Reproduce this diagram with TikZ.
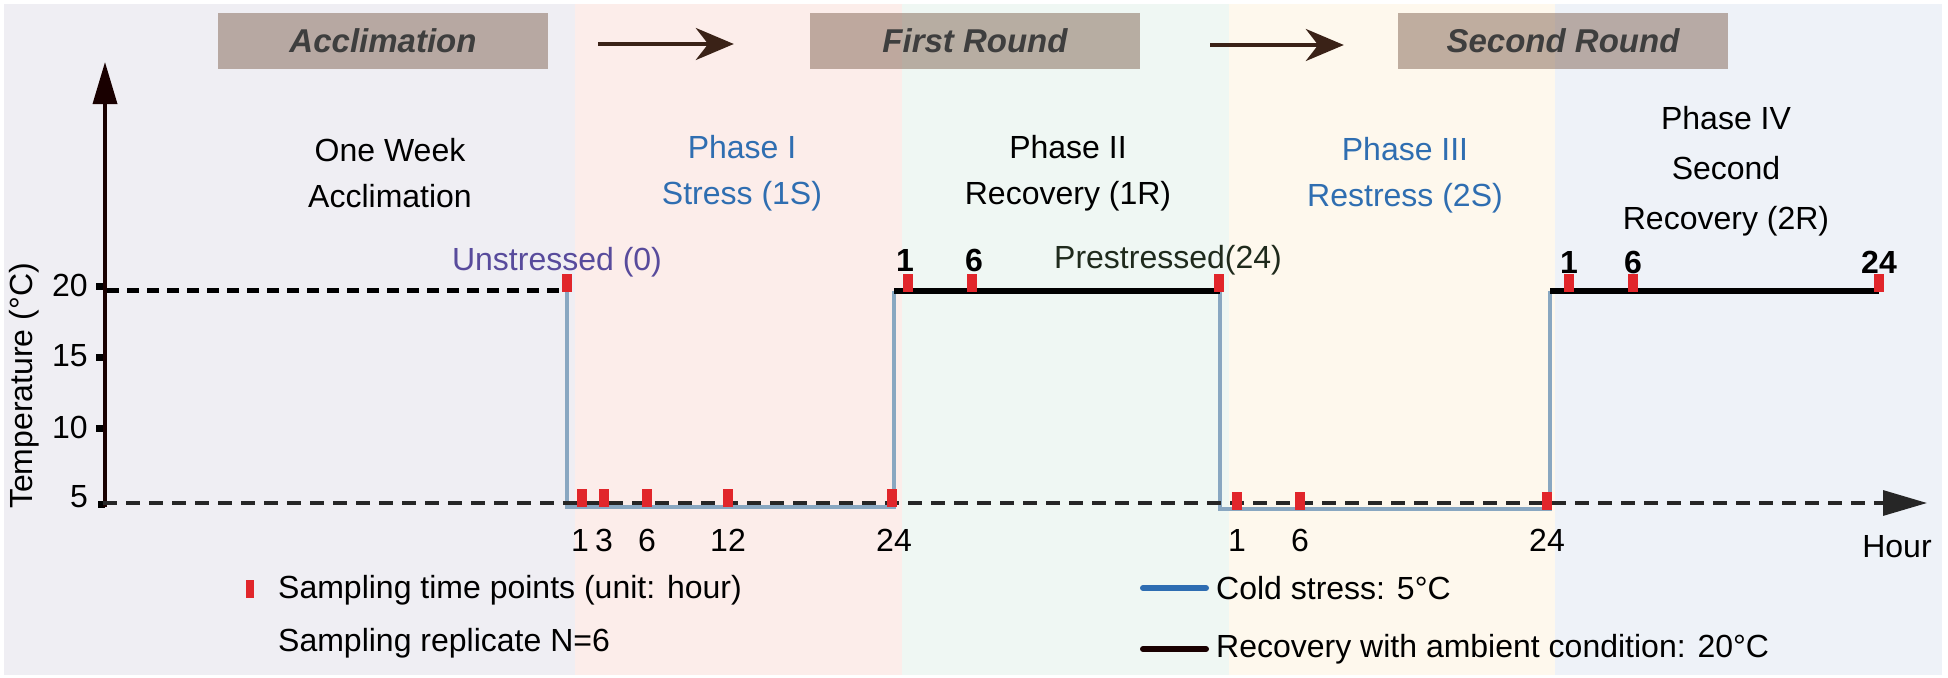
\documentclass[tikz,border=0pt]{standalone}
\usepackage{fontspec}
\setmainfont{Liberation Sans}
\usetikzlibrary{arrows.meta,positioning}

\definecolor{bgacc}{HTML}{EFEEF3}
\definecolor{bgone}{HTML}{FCEDEA}
\definecolor{bgtwo}{HTML}{EFF7F3}
\definecolor{bgthree}{HTML}{FEF8ED}
\definecolor{bgfour}{HTML}{EEF2F8}
\definecolor{boxbrown}{HTML}{816453}
\definecolor{arrowbrown}{HTML}{3A2217}
\definecolor{coldline}{HTML}{89A7C1}
\definecolor{coldkey}{HTML}{2E6DB2}
\definecolor{phaseblue}{HTML}{2F6EB1}
\definecolor{markred}{HTML}{E1262B}
\definecolor{unpurple}{HTML}{584B9C}
\definecolor{pregreen}{HTML}{1F2A1C}
\definecolor{titlegray}{HTML}{3E3E3E}

\tikzset{
  bodytext/.style={font=\fontsize{32}{46}\selectfont, inner sep=0pt},
  phasetext/.style={bodytext, align=center},
  numlab/.style={bodytext},
  toplab/.style={font=\fontsize{32}{36}\selectfont\bfseries, inner sep=0pt},
  titlebox/.style={fill=boxbrown, fill opacity=0.5, text opacity=1, text=titlegray,
    minimum width=330pt, minimum height=56pt, inner sep=0pt,
    font=\fontsize{33}{38}\selectfont\bfseries\itshape},
  sample/.style={fill=markred, minimum width=10pt, minimum height=18pt, inner sep=0pt},
  tickmark/.style={fill=black, minimum size=7pt, inner sep=0pt},
}

\begin{document}
\begin{tikzpicture}[x=1pt,y=-1pt]
  \useasboundingbox (0,0) rectangle (1948,677);
  \fill[white] (0,0) rectangle (1948,677);

  % phase bands
  \fill[bgacc] (4,4) rectangle (575,675);
  \fill[bgone] (575,4) rectangle (902,675);
  \fill[bgtwo] (902,4) rectangle (1229,675);
  \fill[bgthree] (1229,4) rectangle (1555,675);
  \fill[bgfour] (1555,4) rectangle (1942,675);

  % rounds
  \node[titlebox] (acc) at (383,41) {Acclimation};
  \node[titlebox] (first) at (975,41) {First Round};
  \node[titlebox] (second) at (1563,41) {Second Round};

  \begin{scope}[-{Stealth[length=38pt,width=32pt]}, line width=4pt, arrowbrown]
    \draw ([xshift=50pt,yshift=-3pt]acc.east) -- ([xshift=-76pt,yshift=-3pt]first.west);
    \draw ([xshift=70pt,yshift=-4pt]first.east) -- ([xshift=-54pt,yshift=-4pt]second.west);
  \end{scope}

  % phase texts
  \node[phasetext] (ph0) at (390,173) {One Week\\Acclimation};
  \node[phasetext, text=phaseblue] (ph1) at (742,173) {Phase I\\Stress (1S)};
  \node[phasetext] (ph2) at (1068,173) {Phase II\\Recovery (1R)};
  \node[phasetext, text=phaseblue] (ph3) at (1405,175) {Phase III\\Restress (2S)};
  \node[phasetext, font=\fontsize{32}{50}\selectfont] (ph4) at (1726,171) {Phase IV\\Second\\Recovery (2R)};

  % axes
  \coordinate (origin) at (105,507);
  \coordinate (ytop) at (105,62);
  \coordinate (xstart) at (103,503);
  \coordinate (xend) at (1927,503);

  \begin{scope}[every node/.style={tickmark}]
    \node (k20) at (99,286) {};
    \node (k15) at (99,357) {};
    \node (k10) at (99,428) {};
    \node (k5) at (101,504) {};
  \end{scope}
  \node[bodytext, anchor=east] (l20) at (88,285) {20};
  \node[bodytext, anchor=east] (l15) at (88,356) {15};
  \node[bodytext, anchor=east] (l10) at (88,427) {10};
  \node[bodytext, anchor=east] (l5) at (88,497) {5};
  \node[bodytext, rotate=90] (ylab) at (24,386) {Temperature (°C)};
  \node[bodytext] (hour) at (1897,547) {Hour};

  % temperature course
  \coordinate (d0) at (107,290);
  \coordinate (s0) at (567,290);
  \coordinate (s1) at (567,507);
  \coordinate (s2) at (894,507);
  \coordinate (s3) at (894,291);
  \coordinate (s4) at (1220,291);
  \coordinate (s5) at (1220,509);
  \coordinate (s6) at (1550,509);
  \coordinate (s7) at (1550,291);
  \coordinate (s8) at (1879,291);

  \draw[line width=3.5pt, black!90!red, -{Triangle[length=42pt,width=24pt]}] (origin) -- (ytop);
  \draw[line width=5pt, dash pattern=on 12pt off 8pt] (d0) -- (s0);

  \begin{scope}[line width=4.5pt, coldline]
    \draw (s0) -- (s1) -- (s2) -- (s3);
    \draw (s4) -- (s5) -- (s6) -- (s7);
  \end{scope}
  \begin{scope}[line width=5.5pt, black]
    \draw (s3) -- (s4);
    \draw (s7) -- (s8);
  \end{scope}

  \draw[line width=3.2pt, black!85, dash pattern=on 14pt off 9pt,
    -{Triangle[length=44pt,width=25pt]}] (xstart) -- (xend);

  % sampling points
  \begin{scope}[every node/.style={sample}]
    \node (u0) at (567,283) {};
    \node (p1) at (908,283) {};
    \node (p6) at (972,283) {};
    \node (p24) at (1219,283) {};
    \node (q1) at (1569,283) {};
    \node (q6) at (1633,283) {};
    \node (q24) at (1879,283) {};
    \node (a1) at (582,498) {};
    \node (a3) at (604,498) {};
    \node (a6) at (647,498) {};
    \node (a12) at (728,498) {};
    \node (a24) at (892,498) {};
    \node (b1) at (1237,501) {};
    \node (b6) at (1300,501) {};
    \node (b24) at (1547,501) {};
  \end{scope}

  \node[bodytext, text=unpurple] (unst) at (557,262) {Unstressed (0)};
  \node[bodytext, text=pregreen] (prest) at (1168,260) {Prestressed(24)};

  \node[toplab] (tp1) at (905,260) {1};
  \node[toplab] (tp6) at (974,260) {6};
  \node[toplab] (tq1) at (1569,262) {1};
  \node[toplab] (tq6) at (1633,262) {6};
  \node[toplab] (tq24) at (1879,262) {24};

  \node[numlab] (na1) at (580,540) {1};
  \node[numlab] (na3) at (604,540) {3};
  \node[numlab] (na6) at (647,540) {6};
  \node[numlab] (na12) at (728,540) {12};
  \node[numlab] (na24) at (894,540) {24};
  \node[numlab] (nb1) at (1237,540) {1};
  \node[numlab] (nb6) at (1300,540) {6};
  \node[numlab] (nb24) at (1547,540) {24};

  % legend
  \node[sample, minimum width=8pt] (keymark) at (250,589) {};
  \node[bodytext, anchor=west] (keysamp) at (278,590) {Sampling time points (unit: hour)};
  \node[bodytext, anchor=west] (keyrep) at (278,643) {Sampling replicate N=6};

  \coordinate (c1) at (1143,588);
  \coordinate (c2) at (1206,588);
  \coordinate (r1) at (1143,649);
  \coordinate (r2) at (1206,649);
  \draw[line width=6pt, line cap=round, coldkey] (c1) -- (c2);
  \draw[line width=6pt, line cap=round, black!90!red] (r1) -- (r2);
  \node[bodytext, anchor=west] (keycold) at (1216,588) {Cold stress: 5°C};
  \node[bodytext, anchor=west] (keyrec) at (1216,649) {Recovery with ambient condition: 20°C};
\end{tikzpicture}
\end{document}
